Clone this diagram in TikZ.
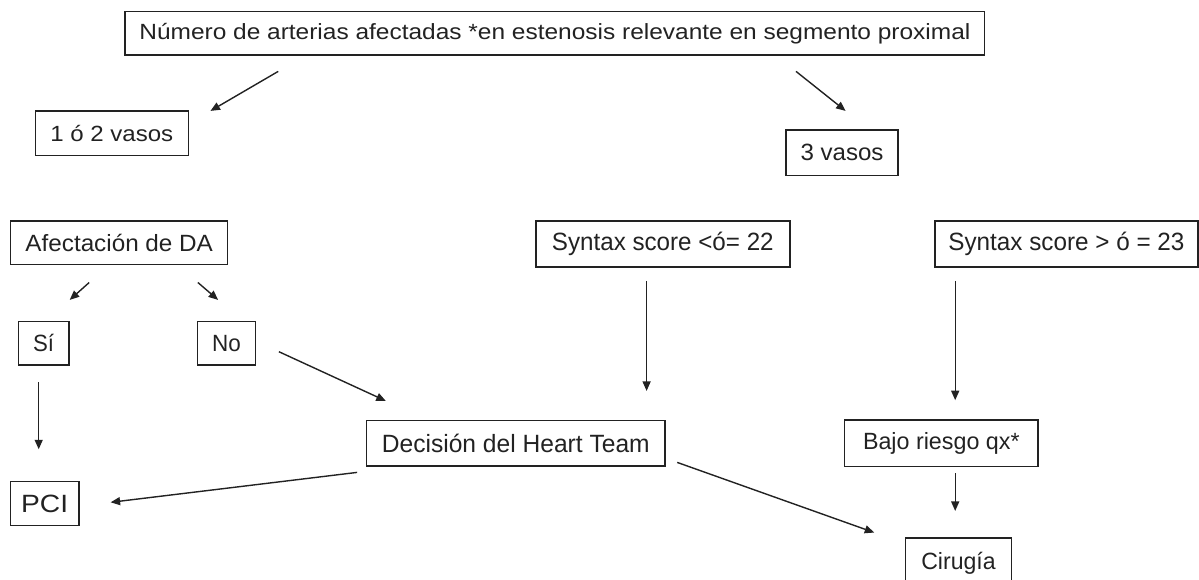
\documentclass[tikz,border=0pt]{standalone}
\usepackage{graphicx}
\usepackage{fontspec}
\setmainfont{Liberation Sans}
\usetikzlibrary{arrows.meta,calc}
\definecolor{ink}{HTML}{222222}
% text at a given size, stretched to a given width
\newcommand{\fittext}[3]{{\fontsize{#1}{#1}\selectfont\resizebox{#2pt}{\height}{#3}}}
\tikzset{
  box/.style={draw=ink, line width=1.5pt, inner sep=0pt, text=ink, align=center},
  arr/.style={draw=ink, line width=1.4pt, -{Triangle[length=9.5pt,width=8pt]}}
}
\begin{document}
\begin{tikzpicture}[x=1pt,y=-1pt]
  \useasboundingbox (0,0) rectangle (1199,579);
  % boxes
  \node[box, minimum width=859.5pt, minimum height=43.3pt] (top) at (554.9,33.3)
    {\fittext{22}{831}{Número de arterias afectadas *en estenosis relevante en segmento proximal}};
  \node[box, minimum width=153pt, minimum height=44.7pt] (v12) at (111.8,133.3) {\fittext{22}{123}{1 ó 2 vasos}};
  \node[box, minimum width=112pt, minimum height=45.7pt] (v3) at (842,152.8) {\fittext{23.5}{83}{3 vasos}};
  \node[box, minimum width=217pt, minimum height=43.3pt] (afec) at (119.2,242.7) {\fittext{23.5}{187.5}{Afectación de DA}};
  \node[box, minimum width=254pt, minimum height=46pt] (syn22) at (662.8,244) {\fittext{25}{221.7}{Syntax score <ó= 22}};
  \node[box, minimum width=262.8pt, minimum height=46pt] (syn23) at (1066.4,244) {\fittext{25}{236}{Syntax score > ó = 23}};
  \node[box, minimum width=50.5pt, minimum height=43.3pt] (si) at (43.6,343.3) {\fittext{23.5}{21}{Sí}};
  \node[box, minimum width=58.1pt, minimum height=43.3pt] (no) at (226.5,343.3) {\fittext{23.5}{28.7}{No}};
  \node[box, minimum width=68.5pt, minimum height=44pt] (pci) at (44.6,503.7) {\fittext{25}{47}{PCI}};
  \node[box, minimum width=298.3pt, minimum height=45.3pt] (heart) at (515.8,443.3) {\fittext{25}{267.8}{Decisión del Heart Team}};
  \node[box, minimum width=193.6pt, minimum height=46.7pt] (bajo) at (941.3,443.3) {\fittext{23.5}{156.6}{Bajo riesgo qx*}};
  \node[box, minimum width=105.8pt, minimum height=50pt] (cir) at (958.5,563) {\fittext{23.5}{74.4}{Cirugía}};

  % connectors
  \draw[arr] ($(top.south)+(-276.7,15.7)$) -- ($(v12.north east)+(21.4,0.7)$);
  \draw[arr] ($(top.south)+(241.1,15.7)$) -- ($(v3.north)+(3.6,-18.3)$);
  \draw[arr] ($(afec.south)+(-30,17.4)$) -- ($(si.north)+(26.1,-21)$);
  \draw[arr] ($(afec.south)+(78.7,17.4)$) -- ($(no.north)+(-8.4,-21)$);
  \draw[arr] ($(si.south)+(-4.9,16.7)$) -- ($(pci.north)+(-5.9,-31.7)$);
  \draw[arr] ($(no.east)+(22.6,8.4)$) -- ($(heart.north west)+(19.9,-19)$);
  \draw[arr] ($(heart.south west)+(-8.8,5.7)$) -- ($(pci.east)+(31,-1.4)$);
  \draw[arr] ($(syn22.south)+(-16.2,13)$) -- ($(heart.north)+(130.8,-29)$);
  \draw[arr] ($(syn23.south)+(-111.2,13)$) -- ($(bajo.north)+(13.9,-19)$);
  \draw[arr] ($(bajo.south)+(13.9,6)$) -- ($(cir.north)+(-3.3,-26.3)$);
  \draw[arr] ($(heart.south east)+(11.5,-4.3)$) -- ($(cir.north west)+(-30.6,-4.7)$);
\end{tikzpicture}
\end{document}
